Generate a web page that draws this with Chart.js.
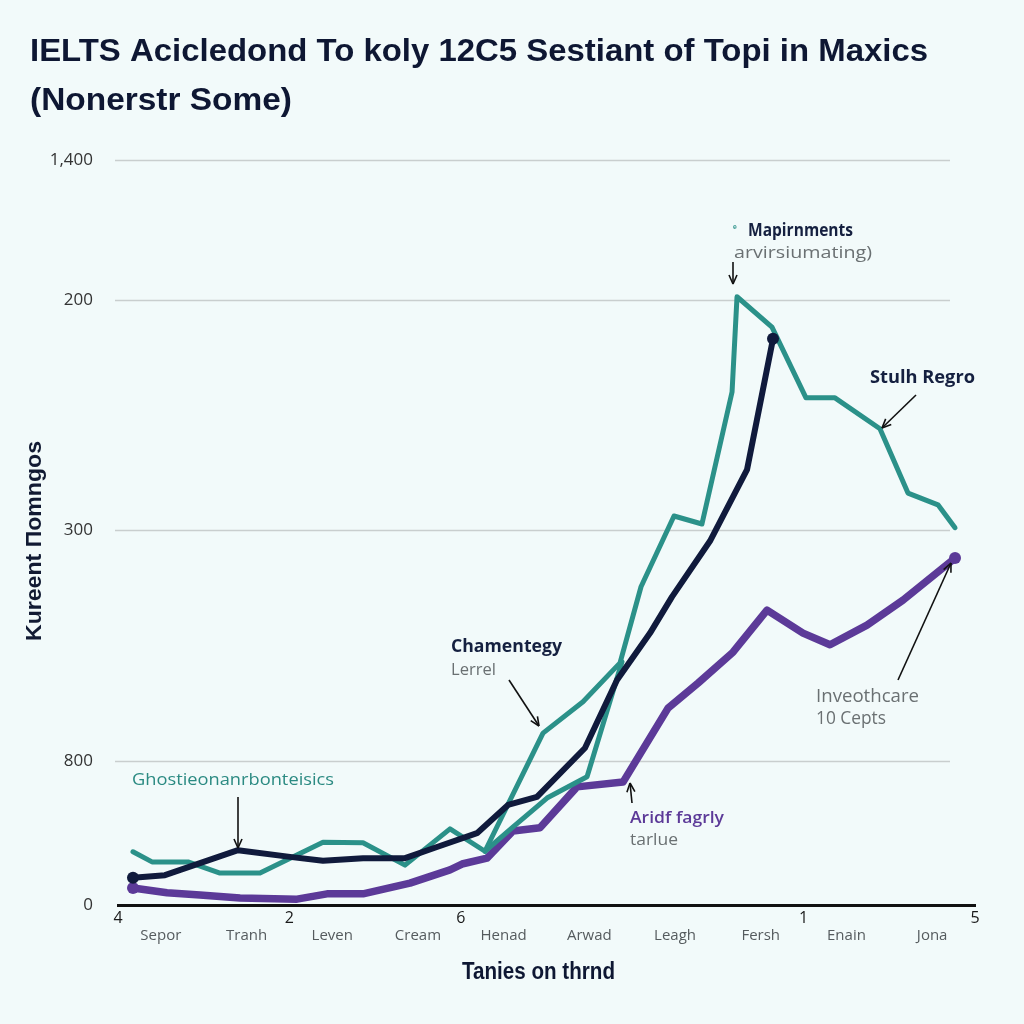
<!DOCTYPE html>
<html>
<head>
<meta charset="utf-8">
<script src="https://cdn.jsdelivr.net/npm/chart.js@4/dist/chart.umd.min.js"></script>
<style>
  html, body { margin: 0; padding: 0; background: #f2fafa; }
  #wrap { width: 1024px; height: 1024px; }
</style>
</head>
<body>
<div id="wrap"><canvas id="c" width="1024" height="1024"></canvas></div>
<script>
// ---------- data ----------
const categories = ['Sepor','Tranh','Leven','Cream','Henad','Arwad','Leagh','Fersh','Enain','Jona'];
const xNumTicks = [0, 2, 4, 8, 10];
const xNumLabels = ['4', '2', '6', '1', '5'];
const yTickValues = [0, 270, 705, 1137, 1400];
const yTickLabels = ['0', '800', '300', '200', '1,400'];

const tealX = [0.175,0.397,0.817,1.190,1.657,2.392,2.859,3.349,3.874,4.282,4.959,5.426,5.858,6.103,6.488,6.814,7.165,7.223,7.631,8.028,8.366,8.891,9.218,9.568,9.767];
const tealY = [100,81,81,60,60,118,117,75,143,101,323,382,455,598,731,716,964,1143,1086,953,953,895,774,752,709];

const tealBranchX = [4.282,4.597,5.006,5.473,5.881];
const tealBranchY = [101,145,201,241,457];

const navyX = [0.175,0.548,1.400,2.030,2.392,2.859,3.349,3.722,4.189,4.551,4.889,5.449,5.823,6.208,6.464,6.908,7.340,7.643];
const navyY = [51,56,103,90,83,88,88,109,135,188,203,295,423,511,579,684,818,1064];

const purpleX = [0.175,0.572,0.957,1.424,2.089,2.439,2.859,3.407,3.874,4.014,4.306,4.609,4.924,5.356,5.893,6.418,6.768,7.176,7.573,7.993,8.308,8.740,9.160,9.767];
const purpleY = [32,23,19,13,11,21,21,41,66,77,88,139,145,222,231,370,417,475,554,511,489,526,573,652];

const pts = (xs, ys) => xs.map((x, i) => ({ x: x, y: ys[i] }));

// ---------- helpers ----------
const BG = '#f2fafa';
const TEAL = '#2b9189';
const NAVY = '#101a3c';
const PURPLE = '#5c3a98';

function fitText(ctx, text, x, y, w) {
  const m = ctx.measureText(text).width;
  const sx = w / m;
  ctx.save();
  ctx.translate(x, y);
  ctx.scale(sx, 1);
  ctx.textAlign = 'left';
  ctx.fillText(text, 0, 0);
  ctx.restore();
}

function arrow(ctx, x1, y1, x2, y2, color) {
  ctx.save();
  ctx.strokeStyle = color; ctx.fillStyle = color;
  ctx.lineWidth = 1.6;
  ctx.beginPath(); ctx.moveTo(x1, y1); ctx.lineTo(x2, y2); ctx.stroke();
  const a = Math.atan2(y2 - y1, x2 - x1);
  const L = 9, W = 4;
  ctx.beginPath();
  ctx.moveTo(x2, y2);
  ctx.lineTo(x2 - L * Math.cos(a) + W * Math.sin(a), y2 - L * Math.sin(a) - W * Math.cos(a));
  ctx.moveTo(x2, y2);
  ctx.lineTo(x2 - L * Math.cos(a) - W * Math.sin(a), y2 - L * Math.sin(a) + W * Math.cos(a));
  ctx.stroke();
  ctx.restore();
}

const bgPlugin = {
  id: 'bg',
  beforeDraw(chart) {
    const ctx = chart.ctx;
    ctx.save();
    ctx.fillStyle = BG;
    ctx.fillRect(0, 0, chart.width, chart.height);
    const ys = chart.scales.y;
    ctx.strokeStyle = '#c9cece';
    ctx.lineWidth = 1.5;
    yTickValues.forEach(v => {
      if (v === 0) return;
      const py = Math.round(ys.getPixelForValue(v)) + 0.5;
      ctx.beginPath(); ctx.moveTo(115, py); ctx.lineTo(950, py); ctx.stroke();
    });
    ctx.restore();
  }
};

const textPlugin = {
  id: 'texts',
  afterDraw(chart) {
    const ctx = chart.ctx;
    ctx.save();
    ctx.textBaseline = 'middle';
    // title
    ctx.fillStyle = '#0e1733';
    ctx.font = 'bold 32px "Liberation Sans", Arial, sans-serif';
    fitText(ctx, 'IELTS Acicledond To koly 12C5 Sestiant of Topi in Maxics', 30, 52, 898);
    fitText(ctx, '(Nonerstr Some)', 30, 101, 262);

    // y axis title
    ctx.save();
    ctx.translate(35, 541);
    ctx.rotate(-Math.PI / 2);
    ctx.font = 'bold 22px "Liberation Sans", Arial, sans-serif';
    ctx.fillStyle = '#111a33';
    fitText(ctx, 'Kureent Пomngos', -100, 0, 200);
    ctx.restore();

    // x axis title
    ctx.font = 'bold 23px "Liberation Sans", Arial, sans-serif';
    ctx.fillStyle = '#0e1733';
    fitText(ctx, 'Tanies on thrnd', 462, 973, 153);

    // annotations
    ctx.font = 'bold 17px "Open Sans", sans-serif';
    ctx.fillStyle = '#152040';
    fitText(ctx, 'Mapirnments', 748, 231, 105);
    ctx.font = 'bold 10px "Open Sans", sans-serif';
    ctx.fillStyle = TEAL;
    ctx.fillText('ᵉ', 733, 228);
    ctx.font = '17px "Open Sans", sans-serif';
    ctx.fillStyle = '#6a7072';
    fitText(ctx, 'arvirsiumating)', 734, 253, 138);
    arrow(ctx, 733, 262, 733, 284, '#111');

    ctx.font = 'bold 18px "Open Sans", sans-serif';
    ctx.fillStyle = '#152040';
    fitText(ctx, 'Stulh Regro', 870, 378, 105);
    arrow(ctx, 916, 395, 882, 428, '#111');

    ctx.font = 'bold 17px "Open Sans", sans-serif';
    ctx.fillStyle = '#152040';
    fitText(ctx, 'Chamentegy', 451, 647, 111);
    ctx.font = '17px "Open Sans", sans-serif';
    ctx.fillStyle = '#6a7072';
    fitText(ctx, 'Lerrel', 451, 670, 45);
    arrow(ctx, 509, 680, 539, 726, '#111');

    ctx.font = '17px "Open Sans", sans-serif';
    ctx.fillStyle = '#2b8a82';
    fitText(ctx, 'Ghostieonanrbonteisics', 132, 780, 202);
    arrow(ctx, 238, 797, 238, 848, '#111');

    ctx.font = '600 17px "Open Sans", sans-serif';
    ctx.fillStyle = PURPLE;
    fitText(ctx, 'Aridf fagrly', 630, 818, 94);
    ctx.font = '17px "Open Sans", sans-serif';
    ctx.fillStyle = '#6a7072';
    fitText(ctx, 'tarlue', 630, 840, 48);
    arrow(ctx, 632, 803, 630, 783, '#111');

    ctx.font = '18px "Open Sans", sans-serif';
    ctx.fillStyle = '#6a7072';
    fitText(ctx, 'Inveothcare', 816, 697, 103);
    fitText(ctx, '10 Cepts', 816, 719, 70);
    arrow(ctx, 898, 680, 951, 563, '#111');

    ctx.restore();
  }
};

const endDots = (n, r) => (c) => (c.dataIndex === 0 || c.dataIndex === n - 1) ? r : 0;

new Chart(document.getElementById('c'), {
  type: 'line',
  data: {
    datasets: [
      {
        label: 'Navy', data: pts(navyX, navyY), borderColor: NAVY, backgroundColor: NAVY,
        borderWidth: 6, pointRadius: endDots(navyX.length, 6), pointBorderWidth: 0, order: 0
      },
      {
        label: 'Teal', data: pts(tealX, tealY), borderColor: TEAL, backgroundColor: TEAL,
        borderWidth: 5, pointRadius: 0, order: 1
      },
      {
        label: 'Teal branch', data: pts(tealBranchX, tealBranchY), borderColor: TEAL, backgroundColor: TEAL,
        borderWidth: 5, pointRadius: 0, order: 1
      },
      {
        label: 'Purple', data: pts(purpleX, purpleY), borderColor: PURPLE, backgroundColor: PURPLE,
        borderWidth: 7.5, pointRadius: endDots(purpleX.length, 6), pointBorderWidth: 0, order: 2
      }
    ]
  },
  options: {
    responsive: false,
    animation: false,
    devicePixelRatio: 1,
    elements: {
      line: { tension: 0, borderJoinStyle: 'round', borderCapStyle: 'round', fill: false }
    },
    layout: { padding: { left: 0, right: 49, top: 160, bottom: 57 } },
    plugins: { legend: { display: false }, tooltip: { enabled: false }, title: { display: false } },
    scales: {
      x: {
        type: 'linear', position: 'bottom', min: 0, max: 10, weight: 0,
        grid: { display: false, drawTicks: false },
        border: { display: true, color: '#111', width: 3 },
        afterBuildTicks: s => { s.ticks = xNumTicks.map(v => ({ value: v })); },
        afterFit: s => { s.height = 22; },
        ticks: {
          autoSkip: false, maxRotation: 0, padding: 4,
          color: '#1a1a1a', font: { family: '"Open Sans", sans-serif', size: 16 },
          callback: v => xNumLabels[xNumTicks.indexOf(v)]
        }
      },
      x2: {
        type: 'linear', position: 'bottom', min: 0, max: 10, weight: 1,
        grid: { display: false, drawTicks: false },
        border: { display: false },
        afterBuildTicks: s => { s.ticks = categories.map((c, i) => ({ value: i + 0.5 })); },
        afterFit: s => { s.height = 40; },
        ticks: {
          autoSkip: false, maxRotation: 0, padding: 0,
          color: '#555b5e', font: { family: '"Open Sans", sans-serif', size: 15 },
          callback: v => categories[Math.round(v - 0.5)]
        }
      },
      y: {
        type: 'linear', min: 0, max: 1400,
        grid: { display: false, drawTicks: false },
        border: { display: false },
        afterBuildTicks: s => { s.ticks = yTickValues.map(v => ({ value: v })); },
        afterFit: s => { s.width = 118; },
        ticks: {
          autoSkip: false, padding: 25,
          color: '#333', font: { family: '"Open Sans", sans-serif', size: 17 },
          callback: v => yTickLabels[yTickValues.indexOf(v)]
        }
      }
    }
  },
  plugins: [bgPlugin, textPlugin]
});
</script>
</body>
</html>
